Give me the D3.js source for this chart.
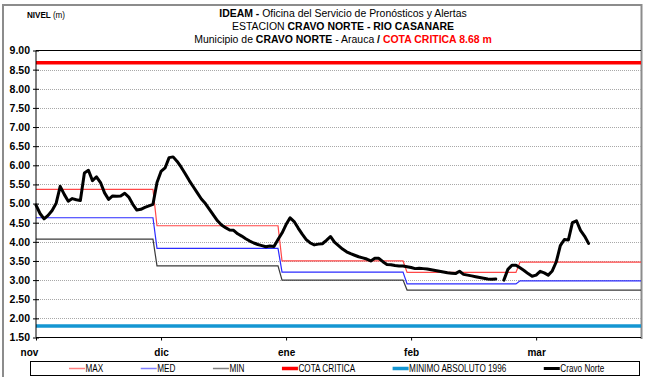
<!DOCTYPE html>
<html><head><meta charset="utf-8">
<script src="https://cdn.jsdelivr.net/npm/d3@7"></script>
<style>body{margin:0;background:#fff}svg{display:block}</style>
</head><body><svg id="chart" width="653" height="377"></svg>
<script>
// Month labels on the day axis (tick every 31 days from 1 Nov)
const monthLabels = ["nov", "dic", "ene", "feb", "mar"];
const monthTickDays = [0, 31, 62, 93, 124];
// First day index of each calendar month, last day shown
const monthStartDays = [0, 30, 61, 92, 120];
const lastDay = 150;
// Monthly historical levels (m)
const maxLevel = [5.37, 4.42, 3.50, 3.20, 3.47];
const medLevel = [4.63, 3.83, 3.21, 2.90, 2.98];
const minLevel = [4.07, 3.37, 3.00, 2.74, 2.74];
const cotaCritica = 8.68;
const minimoAbsoluto = 1.80;
// Daily level at Cravo Norte (m), from 1 Nov; null = no reading
const cravoNorte = [
  4.96, 4.74, 4.60, 4.69, 4.82, 5.01, 5.45, 5.24, 5.06, 5.13,
  5.10, 5.08, 5.80, 5.87, 5.60, 5.70, 5.55, 5.28, 5.11, 5.20,
  5.19, 5.20, 5.27, 5.17, 4.98, 4.83, 4.85, 4.90, 4.94, 4.98,
  5.55, 5.84, 5.93, 6.20, 6.22, 6.10, 5.95, 5.78, 5.60, 5.44,
  5.28, 5.12, 5.00, 4.85, 4.70, 4.55, 4.44, 4.37, 4.31, 4.30,
  4.21, 4.15, 4.08, 4.02, 3.97, 3.93, 3.90, 3.87, 3.89, 3.88,
  4.06, 4.23, 4.45, 4.63, 4.53, 4.36, 4.20, 4.06, 3.97, 3.92,
  3.94, 3.95, 4.04, 4.14, 3.99, 3.90, 3.81, 3.74, 3.69, 3.65,
  3.61, 3.58, 3.55, 3.50, 3.57, 3.57, 3.48, 3.41, 3.40, 3.38,
  3.37, 3.37, 3.35, 3.33, 3.30, 3.31, 3.30, 3.29, 3.27, 3.25,
  3.23, 3.21, 3.19, 3.18, 3.17, 3.23, 3.15, 3.13, 3.11, 3.09,
  3.07, 3.05, 3.03, 3.02, 3.03, null, 3.00, 3.28, 3.39, 3.39,
  3.32, 3.25, 3.17, 3.10, 3.13, 3.23, 3.19, 3.13, 3.24, 3.48,
  3.90, 4.06, 4.05, 4.50, 4.55, 4.30, 4.15, 3.96
];
const yTicks = [1.5, 2, 2.5, 3, 3.5, 4, 4.5, 5, 5.5, 6, 6.5, 7, 7.5, 8, 8.5, 9];

const sans = "'Liberation Sans',Arial,sans-serif";

const svg = d3.select("#chart");
const plot = {left: 36, right: 641, top: 50.5, bottom: 337.5};

const x = d3.scaleLinear().domain([0, lastDay]).range([plot.left, plot.right]);
const y = d3.scaleLinear().domain([1.5, 9]).range([plot.bottom, plot.top]);

// Outer frame
svg.append("path").attr("d", `M3,377 V5 H${plot.right + 0.5} V${plot.bottom + 1.5}`)
  .attr("fill", "none").attr("stroke", "#8c8c8c").attr("stroke-width", 2);

// Dotted horizontal gridlines
svg.append("g").selectAll("line")
  .data(yTicks.filter(t => t > 1.5 && t < 9))
  .join("line")
  .attr("x1", plot.left).attr("x2", plot.right)
  .attr("y1", d => Math.round(y(d)) + 0.5).attr("y2", d => Math.round(y(d)) + 0.5)
  .attr("stroke", "#a8a8a8").attr("stroke-width", 1).attr("stroke-dasharray", "1,1");

// Monthly step lines
function steps(levels) {
  const pts = [];
  levels.forEach((v, m) => {
    const end = m < levels.length - 1 ? monthStartDays[m + 1] - 1 : lastDay;
    pts.push([monthStartDays[m], v], [end, v]);
  });
  return pts;
}
const line = d3.line().x(d => x(d[0])).y(d => y(d[1]));

const series = [
  {name: "MAX", color: "#ff4747", width: 1.2, legendColor: "#ff8080", legendWidth: 1.5},
  {name: "MED", color: "#2b2bff", width: 1.2, legendColor: "#8080ff", legendWidth: 1.5},
  {name: "MIN", color: "#3a3a3a", width: 1.2, legendColor: "#808080", legendWidth: 1.5},
  {name: "COTA CRITICA", color: "#ff0000", width: 3.5, legendColor: "#ff0000", legendWidth: 3.5},
  {name: "MINIMO ABSOLUTO 1996", color: "#1496d2", width: 3.5, legendColor: "#1496d2", legendWidth: 3.5},
  {name: "Cravo Norte", color: "#000000", width: 3, legendColor: "#000000", legendWidth: 3}
];

svg.append("path").datum(steps(minLevel)).attr("d", line)
  .attr("fill", "none").attr("stroke", series[2].color).attr("stroke-width", series[2].width);
svg.append("path").datum(steps(medLevel)).attr("d", line)
  .attr("fill", "none").attr("stroke", series[1].color).attr("stroke-width", series[1].width);
svg.append("path").datum(steps(maxLevel)).attr("d", line)
  .attr("fill", "none").attr("stroke", series[0].color).attr("stroke-width", series[0].width);

svg.append("path").datum([[0, cotaCritica], [lastDay, cotaCritica]]).attr("d", line)
  .attr("fill", "none").attr("stroke", series[3].color).attr("stroke-width", series[3].width);
svg.append("path").datum([[0, minimoAbsoluto], [lastDay, minimoAbsoluto]]).attr("d", line)
  .attr("fill", "none").attr("stroke", series[4].color).attr("stroke-width", series[4].width);

// Observed daily level
const obsLine = d3.line()
  .defined(d => d != null)
  .x((d, i) => x(i)).y(d => y(d));
svg.append("path").datum(cravoNorte).attr("d", obsLine)
  .attr("fill", "none").attr("stroke", "#000").attr("stroke-width", 3)
  .attr("stroke-linejoin", "round").attr("stroke-linecap", "round");

// Plot border (top, left, bottom)
svg.append("path")
  .attr("d", `M${plot.right},${plot.top} H${plot.left} V${plot.bottom} H${plot.right}`)
  .attr("fill", "none").attr("stroke", "#000").attr("stroke-width", 1);

// Y axis
const yAxis = svg.append("g").attr("transform", `translate(${plot.left},0)`)
  .call(d3.axisLeft(y).tickValues(yTicks).tickFormat(d3.format(".2f")).tickSizeInner(3).tickSizeOuter(0));
yAxis.select(".domain").remove();
yAxis.selectAll(".tick line").attr("x2", 3).attr("x1", -3).attr("stroke", "#000");
yAxis.selectAll(".tick text").attr("x", -6)
  .attr("font-family", sans).attr("font-weight", "bold").attr("font-size", 10.5).attr("fill", "#000");

// X axis
const xAxis = svg.append("g").attr("transform", `translate(0,${plot.bottom})`)
  .call(d3.axisBottom(x).tickValues(monthTickDays).tickFormat((d, i) => monthLabels[i]).tickSizeInner(3).tickSizeOuter(0));
xAxis.select(".domain").remove();
xAxis.selectAll(".tick line").attr("stroke", "#000");
xAxis.selectAll(".tick text").attr("y", 11)
  .attr("dx", (d, i) => i === 0 ? -7 : 0)
  .attr("font-family", sans).attr("font-weight", "bold").attr("font-size", 10).attr("fill", "#000");

// Condensed text helper: horizontal squeeze around the anchor point
function condensed(parent, px, py, k) {
  return parent.append("g").attr("transform", `translate(${px},${py}) scale(${k},1)`)
    .append("text").attr("x", 0).attr("y", 0).attr("font-family", sans).attr("fill", "#000");
}

// Axis title
const nivel = condensed(svg, 27, 18, 0.9).attr("font-size", 9);
nivel.append("tspan").attr("font-weight", "bold").text("NIVEL ");
nivel.append("tspan").text("(m)");

// Title block
const titleLines = [
  [{t: "IDEAM - ", b: true}, {t: "Oficina del Servicio de Pronósticos y Alertas"}],
  [{t: "ESTACION "}, {t: "CRAVO NORTE - RIO CASANARE", b: true}],
  [{t: "Municipio de "}, {t: "CRAVO NORTE", b: true}, {t: " - Arauca  "}, {t: "/  ", b: true},
   {t: "COTA CRITICA 8.68 m", b: true, c: "#ff0000"}]
];
titleLines.forEach((parts, i) => {
  const t = condensed(svg, 343, 17 + i * 13, 0.91)
    .attr("text-anchor", "middle").attr("font-size", 11.5);
  parts.forEach(p => t.append("tspan").attr("font-weight", p.b ? "bold" : "normal")
    .attr("fill", p.c || "#000").text(p.t));
});

// Legend
const legend = svg.append("g");
legend.append("rect").attr("x", 30.5).attr("y", 361.5).attr("width", 609).attr("height", 14)
  .attr("fill", "#fff").attr("stroke", "#000").attr("stroke-width", 1);
const squeeze = 0.82;
let lx = 69;
series.forEach(s => {
  legend.append("line").attr("x1", lx).attr("x2", lx + 16).attr("y1", 368.5).attr("y2", 368.5)
    .attr("stroke", s.legendColor).attr("stroke-width", s.legendWidth);
  const txt = condensed(legend, lx + 16.5, 372, squeeze).attr("font-size", 10).text(s.name);
  lx += 16.5 + txt.node().getComputedTextLength() * squeeze + 37.5;
});
</script></body></html>
